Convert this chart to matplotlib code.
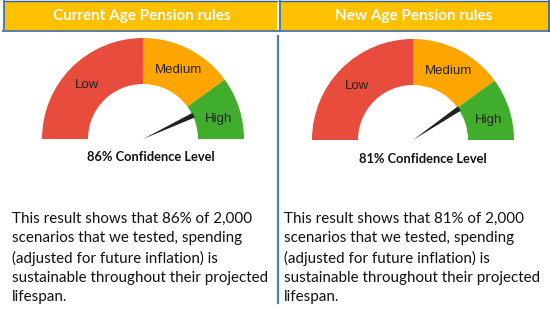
import matplotlib
matplotlib.use("Agg")
import matplotlib.pyplot as plt
from matplotlib.patches import Wedge, Rectangle, Polygon
import numpy as np

# Panel content
titles = ["Current Age Pension rules", "New Age Pension rules"]
confidence = [86, 81]
band_edges = [0, 50, 80, 100]
band_labels = ["Low", "Medium", "High"]
band_colors = ["#E84C3D", "#FFA500", "#40AE2C"]
scenarios = "2,000"

W, H = 550, 330
fig = plt.figure(figsize=(W / 100, H / 100), dpi=100)
ax = fig.add_axes([0, 0, 1, 1])
ax.set_xlim(0, W)
ax.set_ylim(H, 0)
ax.axis("off")

header_color = "#FFC000"
edge_blue = "#4A7EB5"

# panel geometry (pixels, y downward)
panels = [
    dict(x0=3, x1=277, cx=143, cy=139, title_x=142, conf_x=151, conf_y=157, text_x=12),
    dict(x0=279, x1=549, cx=413, cy=140, title_x=414, conf_x=423, conf_y=159, text_x=284),
]

R_OUT, R_IN = 101, 55


def ang(v):
    # value 0..100 maps to 180..0 degrees
    return 180.0 * (1 - v / 100.0)


for p, title, conf in zip(panels, titles, confidence):
    # header band
    ax.add_patch(Rectangle((p["x0"], 0.5), p["x1"] - p["x0"], 30,
                           facecolor=header_color, edgecolor="none", zorder=1))
    ax.plot([p["x0"], p["x1"]], [30.8, 30.8], color="#5A7FA0", lw=1.4, zorder=2)
    ax.plot([p["x0"], p["x1"]], [0.5, 0.5], color="#2E5FA8", lw=1.0, zorder=2)
    ax.plot([p["x0"] + 1, p["x0"] + 1], [0.5, 30.5], color=edge_blue, lw=1.4, zorder=2)
    ax.text(p["title_x"], 16, title, color="white", fontsize=11, fontweight="bold",
            family="Lato", ha="center", va="center", zorder=3)

    cx, cy = p["cx"], p["cy"]
    # gauge bands (y axis points down, so angles are negated)
    for i, (lab, col) in enumerate(zip(band_labels, band_colors)):
        a1, a2 = ang(band_edges[i + 1]), ang(band_edges[i])
        ax.add_patch(Wedge((cx, cy), R_OUT, -a2, -a1, width=R_OUT - R_IN,
                           facecolor=col, edgecolor="none", zorder=2))
        am = (a1 + a2) / 2
        if lab == "High":
            am -= 2
        am = np.deg2rad(am)
        rl = 79
        ax.text(cx + rl * np.cos(am), cy - rl * np.sin(am) + 1.5, lab, fontsize=9.5,
                family="Liberation Sans", color="#222222", ha="center", va="center", zorder=3)

    # needle: thin wedge from centre out to the inner radius
    a = np.deg2rad(ang(conf))
    tip = np.array([cx + (R_IN + 1) * np.cos(a), cy - (R_IN + 1) * np.sin(a)])
    perp = np.array([np.sin(a), np.cos(a)])
    pts = [(cx, cy), tip + 2.6 * perp, tip - 2.6 * perp]
    ax.add_patch(Polygon(pts, closed=True, facecolor="#222222", edgecolor="none", zorder=4))

    ax.text(p["conf_x"], p["conf_y"], f"{conf}% Confidence Level", fontsize=9.3,
            fontweight="bold", family="Lato", color="#111111", ha="center", va="center", zorder=3)

    body = (f"This result shows that {conf}% of {scenarios}\n"
            "scenarios that we tested, spending\n"
            "(adjusted for future inflation) is\n"
            "sustainable throughout their projected\n"
            "lifespan.")
    ax.text(p["text_x"], 212, body, fontsize=10.9, family="Lato", color="#111111",
            ha="left", va="top", linespacing=1.475, zorder=3)

# divider between the panels
ax.plot([278, 278], [36, 303], color=edge_blue, lw=1.6, zorder=2)
ax.plot([548.5, 548.5], [0.5, 30.5], color="#2E5FA8", lw=1.2, zorder=2)

fig.savefig("out.png", dpi=100)
